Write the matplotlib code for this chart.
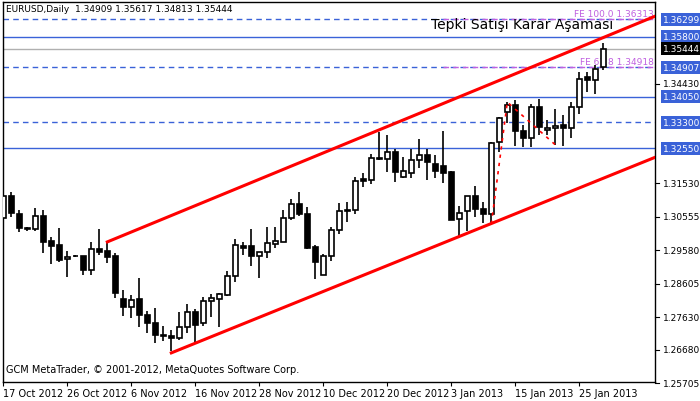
import matplotlib
matplotlib.use("Agg")
import matplotlib.pyplot as plt
import matplotlib.transforms as mtransforms
import numpy as np

# EURUSD daily, bars 0..75
opens = [1.30516, 1.31171, 1.30634, 1.30208, 1.30182, 1.30575, 1.29850, 1.29724, 1.29312, 1.29409,
         1.29400, 1.29007, 1.29615, 1.29556, 1.29409, 1.28167, 1.27932, 1.28147, 1.27698, 1.27471,
         1.27119, 1.27090, 1.27011, 1.27345, 1.27785, 1.27463, 1.28109, 1.28167, 1.28284, 1.28813,
         1.29694, 1.29694, 1.29400, 1.29518, 1.29753, 1.29812, 1.30504, 1.30927, 1.30634, 1.29674,
         1.28860, 1.29400, 1.30178, 1.30760, 1.30751, 1.31661, 1.31620, 1.32278, 1.32248, 1.32425,
         1.31720, 1.31837, 1.32207, 1.32337, 1.32090, 1.32031, 1.31846, 1.30487, 1.30710, 1.31162,
         1.30789, 1.30634, 1.32718, 1.33599, 1.33804, 1.33041, 1.32853, 1.33746, 1.33071, 1.33130,
         1.33227, 1.33150, 1.33746, 1.34635, 1.34538, 1.34909]
highs = [1.31368, 1.31288, 1.30760, 1.30261, 1.30810, 1.30760, 1.29967, 1.30231, 1.29547, 1.29439,
         1.29400, 1.29820, 1.30202, 1.29820, 1.29488, 1.28411, 1.28264, 1.28763, 1.27794, 1.27883,
         1.27383, 1.27257, 1.27765, 1.27999, 1.27853, 1.28205, 1.28302, 1.28332, 1.28969, 1.29913,
         1.29829, 1.30208, 1.29518, 1.30266, 1.30252, 1.30760, 1.31074, 1.31259, 1.30839, 1.29724,
         1.29459, 1.30266, 1.30957, 1.30995, 1.31720, 1.31837, 1.32375, 1.33029, 1.32924, 1.32522,
         1.32307, 1.32522, 1.32806, 1.32513, 1.32354, 1.33055, 1.31896, 1.30868, 1.31162, 1.31456,
         1.30995, 1.32727, 1.33452, 1.33892, 1.33951, 1.33227, 1.33843, 1.33981, 1.33373, 1.33687,
         1.33529, 1.33881, 1.34782, 1.34782, 1.34967, 1.35617]
lows = [1.30516, 1.30534, 1.30105, 1.30143, 1.30123, 1.29506, 1.29183, 1.29242, 1.28801, 1.29380,
        1.28842, 1.28842, 1.29448, 1.29204, 1.28185, 1.27656, 1.27597, 1.27333, 1.27157, 1.26864,
        1.26934, 1.26629, 1.26972, 1.27157, 1.26893, 1.27374, 1.27627, 1.27333, 1.28255, 1.28655,
        1.29430, 1.29129, 1.28772, 1.29359, 1.29653, 1.29812, 1.30457, 1.30575, 1.29605, 1.28743,
        1.28842, 1.29271, 1.30049, 1.30390, 1.30622, 1.31414, 1.31503, 1.32219, 1.31855, 1.31561,
        1.31691, 1.31679, 1.31973, 1.31620, 1.31679, 1.31532, 1.30446, 1.29990, 1.30143, 1.30534,
        1.30361, 1.30343, 1.32443, 1.33289, 1.32619, 1.32572, 1.32590, 1.32924, 1.32924, 1.32648,
        1.32609, 1.32834, 1.33534, 1.34174, 1.34115, 1.34813]
closes = [1.31171, 1.30651, 1.30223, 1.30202, 1.30575, 1.29829, 1.29712, 1.29301, 1.29380, 1.29403,
          1.29007, 1.29606, 1.29536, 1.29388, 1.28332, 1.27932, 1.28138, 1.27686, 1.27463, 1.27110,
          1.27069, 1.27011, 1.27345, 1.27785, 1.27403, 1.28109, 1.28176, 1.28293, 1.28813, 1.29724,
          1.29653, 1.29400, 1.29518, 1.29782, 1.29841, 1.30516, 1.30927, 1.30622, 1.29653, 1.29242,
          1.29400, 1.30178, 1.30722, 1.30730, 1.31602, 1.31590, 1.32278, 1.32236, 1.32425, 1.31867,
          1.31896, 1.32219, 1.32337, 1.32149, 1.31896, 1.31826, 1.30446, 1.30672, 1.31162, 1.30769,
          1.30634, 1.32689, 1.33423, 1.33804, 1.33041, 1.32853, 1.33746, 1.33159, 1.33138, 1.33188,
          1.33150, 1.33746, 1.34568, 1.34547, 1.34870, 1.35444]

date_bars = [0, 8, 16, 24, 32, 40, 48, 56, 64, 72]
date_labels = ["17 Oct 2012", "26 Oct 2012", "6 Nov 2012", "16 Nov 2012", "28 Nov 2012",
               "10 Dec 2012", "20 Dec 2012", "3 Jan 2013", "15 Jan 2013", "25 Jan 2013"]

plain_ticks = [1.34430, 1.31530, 1.30555, 1.29580, 1.28605, 1.27630, 1.26680, 1.25705]
blue_levels = [1.36299, 1.35800, 1.34907, 1.34050, 1.33300, 1.32550]
blue_dashed = [True, False, True, False, True, False]
last_price = 1.35444

# channel lines (bar, price)
upper_channel = ([13, 81.5], [1.29820, 1.36397])
lower_channel = ([21, 81.5], [1.26587, 1.32287])
# fibo expansion points
fibo_bars = [61, 63, 69]
fibo_prices = [1.30343, 1.33892, 1.32648]
fe_levels = [1.36313, 1.34918]
fe_labels = ["FE 100.0 1.36313", "FE 61.8 1.34918"]

W, H = 700, 402
fig = plt.figure(figsize=(7.0, 4.02), dpi=100)
ax = fig.add_axes([3 / W, 19 / H, 652 / W, 380 / H])
ax.set_xlim(-0.04, 81.46)
ax.set_ylim(1.25739, 1.36808)
blue = "#3A62D8"
magenta = "#C060E0"

for lv, d in zip(blue_levels, blue_dashed):
    ax.axhline(lv, color=blue, lw=1, ls=(0, (4, 3)) if d else "-")
ax.axhline(last_price, color="#B0B0B0", lw=1)
for lv in fe_levels:
    ax.plot([55, 81.46], [lv, lv], color=magenta, lw=1, ls=(0, (4, 3)))

x = np.arange(len(opens))
o, hi, lo, c = map(np.array, (opens, highs, lows, closes))
ax.vlines(x, lo, hi, color="black", lw=1.2, zorder=3)
bottom = np.minimum(o, c)
height = np.maximum(np.abs(c - o), 0.00015)
fill = ["white" if cc >= oo else "black" for oo, cc in zip(o, c)]
ax.bar(x, height, bottom=bottom, width=0.62, color=fill, edgecolor="black", lw=1.2, zorder=4)

ax.plot(*upper_channel, color="#FF0000", lw=2.2, zorder=5)
ax.plot(*lower_channel, color="#FF0000", lw=2.2, zorder=5)
ax.plot(fibo_bars, fibo_prices, color="#FF0000", lw=1.2, ls=(0, (2, 3)), zorder=5)

ax.text(53.5, 1.3605, "Tepki Satışı Karar Aşaması", fontsize=10, color="black", zorder=6)
for lv, lab in zip(fe_levels, fe_labels):
    ax.text(81.3, lv + 0.0002, lab, color=magenta, fontsize=6.5, ha="right", va="bottom")

ax.text(0.005, 0.995, "EURUSD,Daily  1.34909 1.35617 1.34813 1.35444", transform=ax.transAxes,
        fontsize=6.5, va="top", ha="left")
ax.text(0.005, 0.02, "GCM MetaTrader, © 2001-2012, MetaQuotes Software Corp.", transform=ax.transAxes,
        fontsize=7, va="bottom", ha="left")

ax.set_yticks([])
ax.set_xticks(date_bars)
ax.set_xticklabels(date_labels, fontsize=7, ha="left")
ax.tick_params(axis="x", length=3, pad=1)
for sp in ax.spines.values():
    sp.set_linewidth(1)

trans = mtransforms.blended_transform_factory(ax.transAxes, ax.transData)
for t in plain_ticks:
    ax.plot([1.0, 1.006], [t, t], color="black", lw=0.8, transform=trans, clip_on=False)
    ax.text(1.012, t, f"{t:.5f}", transform=trans, fontsize=6.5, va="center", ha="left")
for lv in blue_levels:
    ax.text(1.012, lv, f"{lv:.5f}", transform=trans, fontsize=6.5, va="center", ha="left",
            color="white", bbox=dict(facecolor=blue, edgecolor="none", pad=1.5))
ax.text(1.012, last_price, f"{last_price:.5f}", transform=trans, fontsize=6.5, va="center", ha="left",
        color="white", bbox=dict(facecolor="black", edgecolor="none", pad=1.5))

fig.savefig("out.png", dpi=100)
